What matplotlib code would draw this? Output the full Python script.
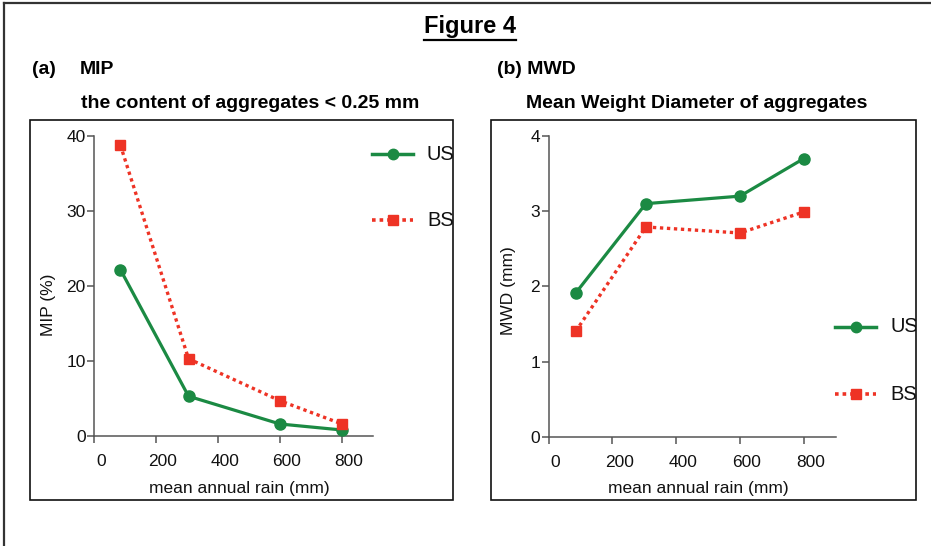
import matplotlib
matplotlib.use("Agg")
import matplotlib.pyplot as plt
from matplotlib import font_manager, transforms
from matplotlib.patches import Rectangle
from matplotlib.lines import Line2D

# ---------------- data ----------------
rain = [85, 305, 600, 800]
mip_us = [22.2, 5.3, 1.6, 0.8]
mip_bs = [38.8, 10.3, 4.7, 1.6]
mwd_us = [1.91, 3.10, 3.20, 3.70]
mwd_bs = [1.40, 2.79, 2.71, 2.99]
x_ticks = [0, 200, 400, 600, 800]
mip_ticks = [0, 10, 20, 30, 40]
mwd_ticks = [0, 1, 2, 3, 4]
series_names = ["US", "BS"]

GREEN = "#1b8a43"
RED = "#ee3325"
W, H = 931, 546

def has_font(name):
    try:
        font_manager.findfont(font_manager.FontProperties(family=name), fallback_to_default=False)
        return True
    except Exception:
        return False

BASE = "Liberation Sans" if has_font("Liberation Sans") else "DejaVu Sans"
plt.rcParams["font.family"] = [BASE, "DejaVu Sans"]

fig = plt.figure(figsize=(W / 100, H / 100), dpi=100)
renderer = fig.canvas.get_renderer()

def fx(px):
    return px / W

def fy(py):
    return 1 - py / H

# outer border (top and left)
fig.add_artist(Line2D([fx(4), fx(4)], [fy(3), 0], transform=fig.transFigure, color="#333333", lw=1.6))
fig.add_artist(Line2D([fx(4), 1], [fy(3), fy(3)], transform=fig.transFigure, color="#333333", lw=1.6))

# panel boxes
boxes = []
for (l, t, r, b) in [(30, 120, 453, 500), (491, 120, 916, 500)]:
    rect = Rectangle((fx(l), fy(b)), fx(r) - fx(l), fy(t) - fy(b), transform=fig.transFigure,
                     fill=False, edgecolor="#111111", lw=1.2)
    fig.add_artist(rect)
    boxes.append(rect)

# titles
TS = 14
title = fig.text(fx(470), fy(26), "Figure 4", ha="center", va="center", fontweight="bold", fontsize=17)
bb = title.get_window_extent(renderer=renderer)
ul_y = bb.y0 - 2
fig.add_artist(Line2D([bb.x0 / W, bb.x1 / W], [ul_y / H, ul_y / H], transform=fig.transFigure,
                      color="black", lw=1.6))

fig.text(fx(32), fy(70), "(a)", ha="left", va="center", fontweight="bold", fontsize=TS)
fig.text(fx(80), fy(70), "MIP", ha="left", va="center", fontweight="bold", fontsize=TS)
fig.text(fx(497), fy(70), "(b) MWD", ha="left", va="center", fontweight="bold", fontsize=TS)
fig.text(fx(250), fy(103), "the content of aggregates < 0.25 mm", ha="center", va="center", fontweight="bold",
         fontsize=TS)
fig.text(fx(697), fy(103), "Mean Weight Diameter of aggregates", ha="center", va="center", fontweight="bold",
         fontsize=TS)

def make_axes(left_px, right_px, top_px, bottom_px, us, bs, yticks, ylim, ylabel, ylabel_pos, leg_pos, box):
    ax = fig.add_axes([fx(left_px), fy(bottom_px), fx(right_px) - fx(left_px), fy(top_px) - fy(bottom_px)])
    ax.patch.set_alpha(0)
    ax.plot(rain, us, color=GREEN, lw=2.3, marker="o", ms=8, mec=GREEN, mfc=GREEN, clip_on=False, zorder=3)
    ax.plot(rain, bs, color=RED, lw=2.4, linestyle=(0, (1, 1.1)), marker="s", ms=7.8, mec=RED, mfc=RED,
            clip_on=False, zorder=3)
    ax.set_xlim(0, 900)
    ax.set_ylim(*ylim)
    ax.set_xticks(x_ticks)
    ax.set_yticks(yticks)
    for s in ["top", "right"]:
        ax.spines[s].set_visible(False)
    for s in ["left", "bottom"]:
        ax.spines[s].set_color("#555555")
        ax.spines[s].set_linewidth(1.1)
    ax.tick_params(axis="both", direction="out", length=5, width=1.1, color="#555555",
                   labelsize=12.5, labelcolor="#111111")
    ax.tick_params(axis="y", pad=1)
    ax.tick_params(axis="x", pad=8)
    off = transforms.ScaledTranslation(7 / 100, 0, fig.dpi_scale_trans)
    for lab in ax.get_xticklabels():
        lab.set_transform(lab.get_transform() + off)
    fig.text(fx((left_px + right_px) / 2 + 6), fy(489), "mean annual rain (mm)", ha="center", va="center",
             color="#111111", fontsize=12.5)
    fig.text(fx(ylabel_pos[0]), fy(ylabel_pos[1]), ylabel, rotation=90, ha="center", va="center",
             fontsize=12.5, color="#111111")
    # legend
    lx0, lx1, ly_us, ly_bs, tx = leg_pos
    fig.add_artist(Line2D([fx(lx0), fx(lx1)], [fy(ly_us)] * 2, transform=fig.transFigure, color=GREEN, lw=2.5))
    fig.add_artist(Line2D([fx((lx0 + lx1) / 2)], [fy(ly_us)], transform=fig.transFigure, color=GREEN,
                          marker="o", ms=7.5, lw=0))
    fig.add_artist(Line2D([fx(lx0), fx(lx1)], [fy(ly_bs)] * 2, transform=fig.transFigure, color=RED, lw=2.6,
                          linestyle=(0, (1, 1.1))))
    fig.add_artist(Line2D([fx((lx0 + lx1) / 2)], [fy(ly_bs)], transform=fig.transFigure, color=RED,
                          marker="s", ms=7.5, lw=0))
    for name, yy in zip(series_names, [ly_us, ly_bs]):
        t = fig.text(fx(tx), fy(yy), name, ha="left", va="center", fontsize=14.5, color="#111111")
        t.set_clip_path(box)
    return ax

make_axes(94, 373, 136, 436, mip_us, mip_bs, mip_ticks, (0, 40), "MIP (%)", (49, 305),
          (372, 413, 154, 220, 427), boxes[0])
make_axes(548.5, 835.7, 136, 436.7, mwd_us, mwd_bs, mwd_ticks, (0, 4), "MWD (mm)", (509, 291),
          (835, 876, 327, 394, 890), boxes[1])

fig.savefig("out.png", dpi=100)
